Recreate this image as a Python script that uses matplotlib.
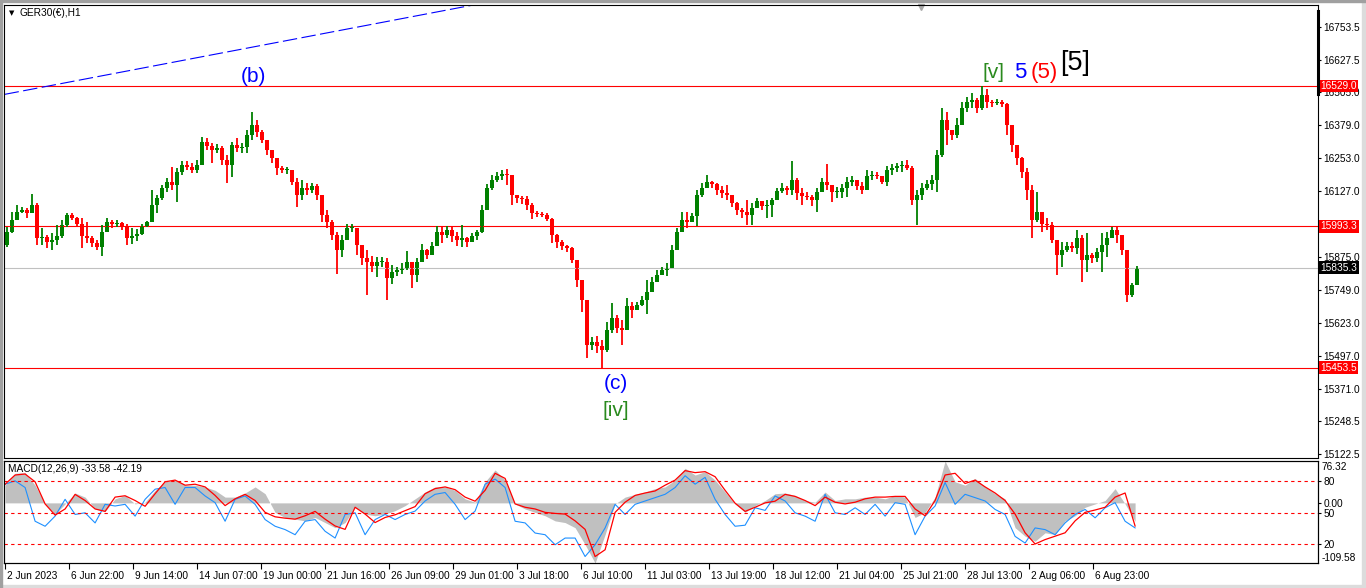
import numpy as np
import matplotlib.pyplot as plt
from matplotlib.patches import Rectangle
from matplotlib.lines import Line2D
from matplotlib.transforms import ScaledTranslation, blended_transform_factory

plt.rcParams['font.family'] = ['Liberation Sans', 'DejaVu Sans']

symbol = 'GER30(€),H1'
macd_title = 'MACD(12,26,9) -33.58 -42.19'

# H1 candles in groups of 5 bars
first_open = 15922
highs = [15990, 16048, 16075, 16067, 16063, 16117, 16082, 15986, 15960, 15967,
         15998, 16017, 16044, 16044, 16029, 16025, 16010, 15956, 15941, 15998,
         16025, 16017, 16017, 16010, 16002, 15986, 15983, 16002, 16013, 16132,
         16113, 16151, 16178, 16219, 16216, 16242, 16242, 16235, 16246, 16334,
         16330, 16311, 16307, 16300, 16266, 16315, 16330, 16311, 16361, 16429,
         16399, 16361, 16311, 16285, 16246, 16223, 16219, 16208, 16178, 16170,
         16159, 16159, 16155, 16094, 16056, 16017, 15971, 15960, 16002, 16002,
         15986, 15918, 15903, 15880, 15876, 15876, 15872, 15846, 15838, 15853,
         15899, 15857, 15872, 15926, 15907, 15933, 15994, 15994, 15994, 15990,
         15971, 15998, 15952, 15967, 15979, 16075, 16155, 16189, 16200, 16208,
         16212, 16170, 16113, 16109, 16109, 16082, 16052, 16048, 16044, 16025,
         15964, 15941, 15922, 15914, 15865, 15788, 15712, 15570, 15574, 15559,
         15628, 15700, 15655, 15635, 15719, 15704, 15704, 15727, 15788, 15800,
         15826, 15838, 15853, 15922, 15986, 16048, 16048, 16044, 16132, 16159,
         16189, 16166, 16159, 16147, 16151, 16105, 16086, 16063, 16094, 16082,
         16102, 16086, 16094, 16102, 16140, 16159, 16147, 16242, 16178, 16140,
         16124, 16113, 16140, 16178, 16231, 16147, 16143, 16155, 16181, 16185,
         16166, 16162, 16208, 16204, 16200, 16185, 16223, 16231, 16235, 16242,
         16246, 16223, 16132, 16159, 16170, 16189, 16285, 16445, 16429, 16361,
         16407, 16468, 16487, 16502, 16483, 16529, 16518, 16475, 16479, 16475,
         16464, 16380, 16304, 16258, 16216, 16151, 16124, 16048, 16025, 16010,
         15941, 15933, 15933, 15933, 15979, 15960, 15967, 15891, 15910, 15967,
         15971, 15990, 15994, 15960, 15903, 15777, 15842]
lows = [15914, 15967, 16017, 16044, 16025, 16044, 15922, 15922, 15910, 15903,
        15922, 15948, 15990, 16017, 15990, 15910, 15929, 15914, 15903, 15880,
        15979, 15986, 15990, 15979, 15922, 15926, 15937, 15960, 15990, 16010,
        16044, 16094, 16124, 16132, 16086, 16189, 16208, 16197, 16197, 16227,
        16285, 16235, 16273, 16227, 16159, 16181, 16277, 16273, 16273, 16323,
        16334, 16311, 16266, 16235, 16189, 16197, 16193, 16151, 16067, 16094,
        16113, 16120, 16094, 16010, 15986, 15941, 15811, 15876, 15941, 15971,
        15884, 15846, 15731, 15819, 15800, 15838, 15712, 15773, 15803, 15811,
        15826, 15758, 15780, 15872, 15868, 15888, 15933, 15929, 15948, 15933,
        15918, 15914, 15914, 15933, 15941, 15967, 16056, 16132, 16162, 16170,
        16151, 16075, 16082, 16079, 16056, 16021, 16029, 16029, 16013, 15929,
        15910, 15903, 15895, 15853, 15761, 15666, 15490, 15521, 15510, 15453,
        15513, 15586, 15586, 15540, 15597, 15643, 15674, 15689, 15658, 15742,
        15788, 15811, 15803, 15834, 15910, 15971, 15986, 16010, 15994, 16105,
        16140, 16140, 16113, 16102, 16094, 16067, 16036, 16025, 15998, 15998,
        16067, 16056, 16025, 16029, 16102, 16120, 16113, 16113, 16094, 16075,
        16094, 16071, 16048, 16124, 16132, 16086, 16102, 16102, 16105, 16147,
        16132, 16117, 16140, 16170, 16174, 16155, 16147, 16189, 16200, 16200,
        16208, 16075, 15998, 16094, 16132, 16132, 16124, 16258, 16304, 16323,
        16330, 16380, 16429, 16445, 16426, 16437, 16445, 16449, 16456, 16449,
        16342, 16277, 16227, 16178, 16094, 15948, 16010, 15971, 15979, 15929,
        15807, 15838, 15895, 15895, 15888, 15780, 15819, 15853, 15857, 15819,
        15876, 15948, 15929, 15884, 15704, 15723, 15769]
closes = [15971, 16017, 16048, 16056, 16044, 16075, 15948, 15952, 15933, 15941,
          15956, 15998, 16036, 16025, 16002, 15956, 15948, 15929, 15914, 15971,
          16010, 16002, 16006, 15994, 15948, 15956, 15964, 15994, 16010, 16075,
          16102, 16140, 16162, 16151, 16200, 16227, 16219, 16208, 16227, 16315,
          16300, 16285, 16292, 16246, 16227, 16304, 16292, 16296, 16342, 16380,
          16353, 16323, 16285, 16254, 16216, 16208, 16208, 16162, 16113, 16140,
          16132, 16147, 16113, 16036, 16010, 15960, 15903, 15941, 15986, 15986,
          15922, 15872, 15857, 15842, 15857, 15857, 15796, 15819, 15826, 15834,
          15857, 15807, 15857, 15903, 15884, 15918, 15971, 15960, 15979, 15956,
          15941, 15948, 15933, 15956, 15971, 16056, 16140, 16170, 16185, 16193,
          16189, 16113, 16102, 16098, 16075, 16044, 16040, 16036, 16021, 15960,
          15933, 15918, 15910, 15865, 15788, 15712, 15540, 15551, 15536, 15521,
          15597, 15643, 15605, 15597, 15689, 15674, 15693, 15712, 15742, 15780,
          15807, 15826, 15834, 15903, 15971, 16017, 16010, 16032, 16113, 16140,
          16162, 16155, 16132, 16120, 16113, 16082, 16056, 16048, 16036, 16063,
          16090, 16071, 16075, 16094, 16128, 16140, 16132, 16170, 16120, 16109,
          16105, 16094, 16124, 16162, 16151, 16124, 16124, 16140, 16162, 16170,
          16147, 16132, 16185, 16189, 16185, 16162, 16208, 16216, 16223, 16227,
          16216, 16094, 16113, 16140, 16155, 16170, 16266, 16399, 16361, 16342,
          16380, 16445, 16468, 16475, 16445, 16495, 16468, 16464, 16468, 16460,
          16380, 16304, 16254, 16200, 16132, 16017, 16048, 16002, 15998, 15941,
          15884, 15903, 15918, 15910, 15948, 15865, 15884, 15872, 15895, 15922,
          15948, 15979, 15960, 15903, 15731, 15769, 15835]

# indicator window, read every 10 bars
macd_main = [32.2, 53.9, 55.1, 32.2, -1.9, -20.4, -1.9, 18.0, 10.5, -11.1,
             -15.5, 7.4, 13.6, -1.9, 1.2, 22.9, 38.4, 41.5, 32.2, 32.2,
             29.1, 22.9, 10.5, 10.5, 18.0, 29.1, 16.7, -17.3, -26.6, -29.7,
             -32.8, -26.6, -35.9, -45.2, -35.9, -8.0, -20.4, -23.5, -20.4, -14.2,
             -5.0, 7.4, 19.8, 29.1, 29.1, 22.9, 7.4, 1.2, 38.4, 60.0,
             41.5, -1.9, -11.1, -17.3, -23.5, -32.8, -35.9, -45.2, -76.1, -109.6,
             -57.6, -1.9, 10.5, 15.5, 19.8, 26.0, 29.1, 41.5, 63.1, 50.8,
             56.9, 41.5, 19.8, -1.9, -17.3, -5.0, 4.3, 16.7, 18.0, 13.6,
             4.3, 1.2, 19.8, 4.3, 7.4, 7.4, 10.5, 10.5, 7.4, 13.6,
             10.5, -26.6, -17.3, 10.5, 76.3, 38.4, 32.2, 44.6, 29.1, 16.7,
             7.4, -45.2, -60.7, -69.9, -54.5, -57.6, -32.8, -23.5, -8.0, -1.9,
             4.3, 26.0, -1.9, -33.6]
macd_signal = [34.0, 50.8, 52.6, 38.4, -1.9, -22.3, -11.1, 15.5, 4.3, -11.1,
               -15.5, 10.5, 13.0, 4.3, -6.2, 16.7, 38.4, 41.5, 32.2, 34.0,
               29.1, 13.6, -5.0, 7.4, 15.5, 4.3, -17.3, -25.4, -27.9, -29.7,
               -23.5, -15.5, -29.7, -42.1, -48.3, -8.0, -20.4, -35.9, -26.6, -21.7,
               -14.2, -6.8, 16.7, 26.0, 29.1, 24.1, 10.5, 3.1, 22.9, 53.9,
               44.6, -1.9, -8.0, -11.1, -17.3, -19.2, -20.4, -32.8, -48.3, -97.8,
               -85.4, -17.3, 1.2, 13.6, 18.0, 21.7, 32.2, 41.5, 58.8, 55.1,
               56.9, 47.7, 22.9, -0.6, -15.5, -8.0, 0.0, 3.1, 15.5, 11.8,
               4.3, -5.0, 10.5, 1.2, -1.9, 1.2, 7.4, 10.5, 10.5, 11.8,
               11.8, -11.1, -23.5, 4.3, 50.8, 53.9, 35.3, 41.5, 29.1, 18.0,
               4.3, -20.4, -54.5, -74.9, -66.9, -60.7, -54.5, -32.8, -17.3, -13.0,
               -8.0, 10.5, 18.0, -42.2]
osc_line = [77.4, 80.6, 74.2, 41.9, 37.1, 46.8, 62.9, 48.4, 50.0, 40.3,
            58.1, 56.5, 58.1, 46.8, 62.9, 72.6, 74.2, 58.1, 74.2, 74.2,
            66.1, 59.7, 41.9, 62.9, 66.1, 58.1, 43.5, 37.1, 33.9, 29.0,
            41.9, 43.5, 32.3, 25.8, 48.4, 50.0, 29.0, 43.5, 48.4, 43.5,
            48.4, 51.6, 61.3, 67.7, 69.4, 58.1, 43.5, 51.6, 77.4, 82.3,
            74.2, 41.9, 40.3, 30.6, 29.0, 19.4, 25.8, 25.8, 8.1, 19.4,
            35.5, 58.1, 48.4, 58.1, 61.3, 64.5, 67.7, 74.2, 85.5, 77.4,
            83.9, 62.9, 48.4, 37.1, 38.1, 54.8, 52.3, 66.1, 61.3, 50.0,
            46.8, 41.9, 67.7, 50.0, 48.4, 54.8, 48.4, 58.1, 46.8, 59.7,
            58.1, 29.0, 46.8, 56.5, 79.0, 58.1, 67.7, 64.5, 61.3, 53.2,
            48.4, 27.4, 21.0, 35.5, 33.9, 29.0, 40.3, 48.4, 53.2, 45.2,
            54.8, 59.7, 41.9, 35.5]

red_levels = [16529.0, 15993.3, 15453.5]
bid = 15835.3
osc_levels = [80, 50, 20]
trend_x = [0, 500]
trend_y = [16497, 16861]

price_ticks = [16753.5, 16627.5, 16505.0, 16379.0, 16253.0, 16127.0, 15875.0,
               15749.0, 15623.0, 15497.0, 15371.0, 15248.5, 15122.5]
date_labels = ['2 Jun 2023', '6 Jun 22:00', '9 Jun 14:00', '14 Jun 07:00', '19 Jun 00:00',
               '21 Jun 16:00', '26 Jun 09:00', '29 Jun 01:00', '3 Jul 18:00', '6 Jul 10:00',
               '11 Jul 03:00', '13 Jul 19:00', '18 Jul 12:00', '21 Jul 04:00', '25 Jul 21:00',
               '28 Jul 13:00', '2 Aug 06:00', '6 Aug 23:00']

waves = [('(b)', 249, 16566, '#0000ff', 15),
         ('(c)', 611, 15394, '#0000ff', 15),
         ('[iv]', 611, 15289, '#2a8a1e', 15),
         ('[v]', 989, 16581, '#2a8a1e', 15),
         ('5', 1016, 16580, '#0000ff', 16),
         ('(5)', 1040, 16580, '#ff0000', 16),
         ('[5]', 1070, 16618, '#000000', 19.5)]

W, H = 1366, 588
fig = plt.figure(figsize=(W / 100, H / 100), dpi=100)
ax = fig.add_axes([4 / W, 1 - 458 / H, 1314 / W, 453 / H])
axm = fig.add_axes([4 / W, 1 - 563 / H, 1314 / W, 102 / H])

# candles
highs = np.array(highs)
lows = np.array(lows)
closes = np.array(closes)
opens = np.r_[first_open, closes[:-1]]
cx = np.arange(len(closes)) * 5 + 2.5
col = np.where(closes >= opens, '#008000', '#ff0000')
ax.vlines(cx, lows, highs, colors=col, lw=1.3)
ax.bar(cx, np.maximum(np.abs(closes - opens), 3), bottom=np.minimum(opens, closes),
       width=4.0, color=col, linewidth=0)

for v in red_levels:
    ax.axhline(v, color='#ff0000', lw=0.8, zorder=1)
ax.axhline(bid, color='#c0c0c0', lw=0.8, zorder=1)
ax.plot(trend_x, trend_y, color='#0000ff', lw=0.8, dashes=(13, 4))

for txt, x, y, c, fs in waves:
    ax.text(x, y, txt, color=c, fontsize=fs, ha='center', va='center')

ax.plot(916, 16830, marker='v', color='#a8a8a8', ms=5, clip_on=False)

ax.set_xlim(-0.6, 1313.4)
ax.set_ylim(15108.7, 16838.2)
ax.set_xticks([])
ax.yaxis.tick_right()
ax.set_yticks(price_ticks)
ax.set_yticklabels([f'{v:.1f}' for v in price_ticks])
ax.tick_params(axis='y', length=2.5, width=0.8, pad=1.5, labelsize=7.3)

tr = blended_transform_factory(ax.transAxes, ax.transData)
for v in red_levels:
    ax.text(1.002, v, f'{v:.1f}', transform=tr, color='white', fontsize=7.3, va='center',
            ha='left', clip_on=False, zorder=6,
            bbox=dict(boxstyle='square,pad=0.12', fc='#ff0000', ec='none'))
ax.text(1.002, bid, f'{bid:.1f}', transform=tr, color='white', fontsize=7.3, va='center',
        ha='left', clip_on=False, zorder=6,
        bbox=dict(boxstyle='square,pad=0.12', fc='#000000', ec='none'))

# indicator window
mx = np.arange(len(macd_main)) * 10 + 0.5
axm.fill_between(mx, 0, macd_main, color='#c0c0c0', lw=0)
axm.set_xlim(-0.6, 1313.4)
axm.set_ylim(-109.58, 76.32)
axs = axm.twinx()
axs.plot(mx, osc_line, color='#1e90ff', lw=0.8)
for lv in osc_levels:
    axs.axhline(lv, color='#ff0000', lw=0.8, ls=(0, (3, 3)))
axs.set_ylim(1.9, 99.6)
# signal line drawn on top, in the MACD scale
trm = blended_transform_factory(axs.transData, axs.transAxes)
sig_y = (np.array(macd_signal) + 109.58) / (76.32 + 109.58)
axs.plot(mx, sig_y, color='#ff0000', lw=0.9, transform=trm)

axm.yaxis.tick_right()
axm.set_yticks([0])
axm.set_yticklabels(['0.00'])
axm.tick_params(axis='y', length=2.5, width=0.8, pad=1.5, labelsize=7.3)
axs.set_yticks(osc_levels)
axs.set_yticklabels([str(v) for v in osc_levels])
axs.tick_params(axis='y', length=2.5, width=0.8, pad=1.5, labelsize=7.3)
axm.text(1.003, 0.94, '76.32', transform=axm.transAxes, fontsize=7.3, va='center', ha='left')
axm.text(1.003, 0.05, '-109.58', transform=axm.transAxes, fontsize=7.3, va='center', ha='left')

axm.set_xticks(np.arange(len(date_labels)) * 64)
axm.set_xticklabels(date_labels, ha='left')
axm.tick_params(axis='x', length=4, width=0.8, pad=1.5, labelsize=7.3)
shift = ScaledTranslation(2 / 72, 0, fig.dpi_scale_trans)
for lbl in axm.get_xticklabels():
    lbl.set_transform(lbl.get_transform() + shift)

for a in (ax, axm, axs):
    for s in a.spines.values():
        s.set_linewidth(0.8)

fig.text(9 / W, 1 - 13 / H, '▼', fontsize=5, va='center', family='DejaVu Sans')
fig.text(20 / W, 1 - 13 / H, symbol, fontsize=7.3, va='center')
fig.text(8 / W, 1 - 469 / H, macd_title, fontsize=7.3, va='center')

# window frame
fig.patches.append(Rectangle((0, 0), 1, 3 / H, transform=fig.transFigure, color='#dcdcdc'))
fig.patches.append(Rectangle((1 - 4 / W, 0), 4 / W, 1, transform=fig.transFigure, color='#dcdcdc'))
fig.patches.append(Rectangle((0, 0), 1.5 / W, 1, transform=fig.transFigure, color='#a0a0a0'))
fig.patches.append(Rectangle((0, 1 - 1.5 / H), 1, 1.5 / H, transform=fig.transFigure, color='#a0a0a0'))
fig.add_artist(Line2D([1318 / W, 1318 / W], [1 - 11 / H, 1 - 94 / H], color='black', lw=2.2))

fig.savefig('out.png', dpi=100)
